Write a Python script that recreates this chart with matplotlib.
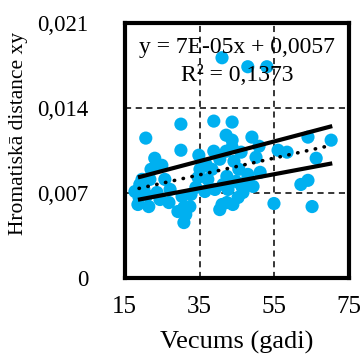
import matplotlib
matplotlib.use("Agg")
import matplotlib.pyplot as plt

plt.rcParams['font.family'] = ['Liberation Serif', 'DejaVu Serif']

# data
age = [41.0, 47.9, 53.0, 30.0, 38.8, 43.7, 20.6, 30.0, 34.8, 42.1,
       43.7, 49.0, 50.9, 38.8, 42.1, 46.1, 50.1, 23.0, 24.9, 36.7,
       44.2, 64.0, 70.2, 56.0, 58.4, 66.2, 51.2, 62.1, 64.0, 54.9,
       65.1, 42.3, 37.2, 39.1, 41.3, 46.3, 47.7, 42.3, 40.4, 43.9,
       46.6, 32.4, 49.3, 45.3, 41.0, 36.4, 42.6, 34.6, 22.0, 23.6,
       19.6, 20.1, 18.8, 21.4, 26.8, 30.3, 30.8, 31.3, 30.8, 32.7,
       23.6, 34.0, 18.5, 19.0, 21.7, 25.7, 27.1, 17.7, 29.2, 35.1,
       38.3, 45.5, 47.9, 24.4, 20.9, 43.7, 40.4, 44.7]
dist = [0.01814, 0.0174, 0.0174, 0.01267, 0.01292, 0.01284, 0.01152, 0.01052, 0.01011, 0.01176,
        0.01135, 0.0116, 0.01085, 0.01044, 0.01044, 0.01036, 0.00994, 0.00986, 0.00928, 0.00936,
        0.00961, 0.0116, 0.01135, 0.01052, 0.01036, 0.00986, 0.0087, 0.0077, 0.00804, 0.00613,
        0.00588, 0.00837, 0.00812, 0.00729, 0.0077, 0.00754, 0.00804, 0.00621, 0.00563, 0.00605,
        0.00704, 0.00588, 0.00754, 0.00663, 0.00605, 0.00712, 0.00729, 0.00828, 0.00895, 0.00911,
        0.00812, 0.00729, 0.00663, 0.00588, 0.00621, 0.00671, 0.0058, 0.00522, 0.00456, 0.00688,
        0.00704, 0.00746, 0.00605, 0.0077, 0.00812, 0.00812, 0.00729, 0.00712, 0.00547, 0.00895,
        0.00895, 0.00895, 0.00853, 0.00646, 0.00679, 0.01077, 0.00978, 0.00795]

# the two solid lines and the dotted trend line
line_x = [18.5, 70.5]
upper_y = [0.00828, 0.01251]
lower_y = [0.00644, 0.00944]
trend_x = [18.8, 69.1]
trend_slope = 6.9e-05
trend_icpt = 0.00608

x_ticks = [15, 35, 55, 75]
y_ticks = [0, 0.007, 0.014, 0.021]
y_labels = ['0', '0,007', '0,014', '0,021']

fig = plt.figure(figsize=(3.64, 3.60), dpi=100)
ax = fig.add_axes([0.343, 0.228, 0.616, 0.708])

ax.scatter(age, dist, s=90, color='#00B0F0', edgecolors='none', zorder=2)
ax.plot(line_x, upper_y, color='black', lw=3.0, solid_capstyle='butt', zorder=3)
ax.plot(line_x, lower_y, color='black', lw=3.0, solid_capstyle='butt', zorder=3)
ax.plot(trend_x, [trend_slope * x + trend_icpt for x in trend_x], color='black',
        lw=2.6, linestyle=(0, (0.1, 2.4)), dash_capstyle='round', zorder=4)

ax.set_xlim(15, 75)
ax.set_ylim(0, 0.021)
ax.set_xticks(x_ticks)
ax.set_xticklabels([str(t) for t in x_ticks])
ax.set_yticks(y_ticks)
ax.set_yticklabels(y_labels)
ax.tick_params(length=0)
ax.tick_params(axis='x', pad=13, labelsize=18)
ax.tick_params(axis='y', pad=26, labelsize=16.5)
ax.grid(True, color='black', linestyle=(0, (4, 3)), lw=1.1)
ax.set_axisbelow(True)
for s in ax.spines.values():
    s.set_linewidth(3.0)

ax.set_xlabel('Vecums (gadi)', fontsize=19, labelpad=9)
ax.set_ylabel('Hromatiskā distance xy', fontsize=15.5)
ax.yaxis.set_label_coords(-0.43, 0.565)

ax.text(0.5, 0.905, 'y = 7E-05x + 0,0057', transform=ax.transAxes, ha='center',
        va='center', fontsize=17, zorder=5)
ax.text(0.5, 0.795, 'R² = 0,1373', transform=ax.transAxes, ha='center',
        va='center', fontsize=17, zorder=5)

fig.savefig('out.png', dpi=100)
